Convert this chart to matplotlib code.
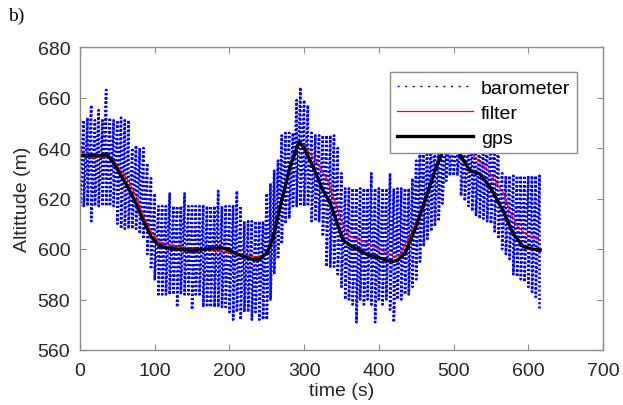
import numpy as np
import matplotlib
matplotlib.use("Agg")
import matplotlib.pyplot as plt

# ---------------- data ----------------
baro_t = list(range(0, 620, 5))
baro_hi = [651, 651, 652, 657, 651, 655, 651, 663, 652, 651,
           651, 652, 651, 651, 640, 641, 640, 640, 634, 628,
           622, 617, 617, 617, 622, 617, 617, 617, 622, 617,
           617, 617, 617, 617, 617, 617, 617, 623, 617, 617,
           617, 617, 623, 617, 611, 611, 611, 611, 611, 611,
           622, 626, 631, 635, 645, 646, 646, 646, 659, 664,
           659, 657, 646, 645, 645, 645, 645, 645, 645, 640,
           630, 624, 624, 624, 624, 624, 624, 624, 630, 624,
           624, 624, 624, 630, 624, 624, 624, 624, 624, 628,
           635, 640, 645, 645, 645, 645, 645, 645, 645, 645,
           645, 645, 645, 645, 645, 645, 645, 645, 645, 645,
           645, 645, 645, 630, 629, 629, 629, 629, 629, 629,
           629, 629, 629, 629]
baro_lo = [617, 617, 617, 611, 617, 617, 617, 617, 617, 617,
           610, 608, 608, 608, 608, 608, 606, 604, 598, 592,
           588, 582, 582, 582, 582, 582, 577, 582, 582, 582,
           576, 582, 582, 577, 577, 577, 577, 577, 577, 577,
           575, 572, 575, 572, 575, 575, 572, 575, 572, 572,
           572, 580, 590, 596, 602, 610, 612, 617, 617, 617,
           617, 617, 611, 611, 611, 605, 593, 593, 593, 590,
           585, 580, 580, 578, 571, 580, 578, 580, 578, 571,
           580, 578, 580, 576, 571, 580, 580, 582, 582, 585,
           588, 595, 601, 604, 607, 609, 611, 618, 627, 629,
           629, 629, 621, 619, 617, 615, 613, 612, 612, 611,
           610, 607, 604, 600, 598, 596, 590, 589, 588, 587,
           585, 583, 581, 576]

filt_t = [0, 3, 10, 20, 30, 38, 45, 55, 65, 75, 85, 95, 105, 115, 125,
          140, 160, 180, 200, 210, 220, 232, 245, 252, 260, 270, 282, 294,
          300, 310, 320, 330, 340, 350, 360, 370, 380, 390, 400, 410, 420,
          428, 435, 445, 460, 475, 486, 495, 505, 515, 526, 537, 549, 558,
          567, 575, 585, 592, 598, 607, 616]
filt_v = [641, 638, 636.5, 636, 636.5, 636.5, 635, 631, 627, 621, 613,
          607, 603, 602, 601.5, 600.5, 600, 599.5, 598.5, 598.5, 597.5,
          597, 597, 600, 606, 618, 633, 642.5, 641, 637, 633, 628, 620,
          611, 605, 604, 603, 601.5, 600, 598.5, 597, 597.5, 601.6, 607,
          619, 631, 639, 642, 643, 640, 637, 634, 630, 626, 622, 615,
          609.5, 607, 605.7, 604.5, 603.5]

gps_t = [0, 10, 20, 30, 36, 45, 55, 65, 75, 85, 95, 105, 115, 130, 150,
         170, 190, 200, 210, 220, 232, 240, 250, 258, 268, 281, 293, 300,
         312, 324, 335, 352, 364, 386, 400, 417, 425, 435, 448, 462, 475,
         486, 495, 502, 509, 522, 535, 549, 566, 580, 593, 605, 616]
gps_v = [637, 637, 637, 637, 637.5, 634, 629, 624, 618, 611, 605, 601.5,
         600.5, 600, 599.5, 600, 600.5, 599.5, 598, 597, 595.7, 596, 598.3,
         604, 616.8, 632.5, 642.3, 640, 632.5, 624, 618, 603.5, 601, 597.6,
         596.5, 595, 595.5, 598.3, 607.5, 619.3, 631, 639, 643, 642, 637,
         631, 629.8, 624.5, 615.3, 606, 601, 600, 599.6]

x_ticks = [0, 100, 200, 300, 400, 500, 600, 700]
y_ticks = [560, 580, 600, 620, 640, 660, 680]

# ---------------- figure ----------------
plt.rcParams['font.family'] = ['Liberation Sans', 'DejaVu Sans']
fig = plt.figure(figsize=(6.23, 4.06), dpi=100)
ax = fig.add_axes([80/623, 1-351/406, 523/623, 303/406])

bt = np.repeat(np.asarray(baro_t, float), 2)
bv = np.column_stack([baro_hi, baro_lo]).ravel()
ax.plot(bt, bv, color='#0000ff', lw=1.9, dashes=(0.8, 0.8),
        label='barometer')
ax.plot(filt_t, filt_v, color='#ff0000', lw=0.9, label='filter')
ax.plot(gps_t, gps_v, color='black', lw=2.4, label='gps')

ax.set_xlim(0, 700)
ax.set_ylim(560, 680)
ax.set_xticks(x_ticks)
ax.set_yticks(y_ticks)
ax.tick_params(direction='in', length=4, width=0.8, top=True, right=True,
               labelsize=14, colors='#8c8c8c', labelcolor='#262626', pad=7)
ax.tick_params(axis='x', pad=9)
for s in ax.spines.values():
    s.set_color('#8c8c8c')
    s.set_linewidth(1.0)

ax.set_xlabel('time (s)', fontsize=14, color='#262626', labelpad=2)
ax.set_ylabel('Altittude (m)', fontsize=14, color='#262626', labelpad=5)

leg = ax.legend(loc='upper right', bbox_to_anchor=(0.950, 0.917),
                borderaxespad=0, fontsize=14, handlelength=3.9,
                handletextpad=0.4, labelspacing=0.38, borderpad=0.35,
                fancybox=False, framealpha=1, edgecolor='#8c8c8c')
leg.get_frame().set_linewidth(1.0)
bl = leg.get_lines()[0]
bl.set_linewidth(1.0)
bl.set_linestyle((0, (1.5, 4.0)))

fig.text(8/623, 1-16/406, 'b)', family='Liberation Serif', fontsize=14,
         va='center', ha='left', color='black')

fig.savefig('out.png', dpi=100)
